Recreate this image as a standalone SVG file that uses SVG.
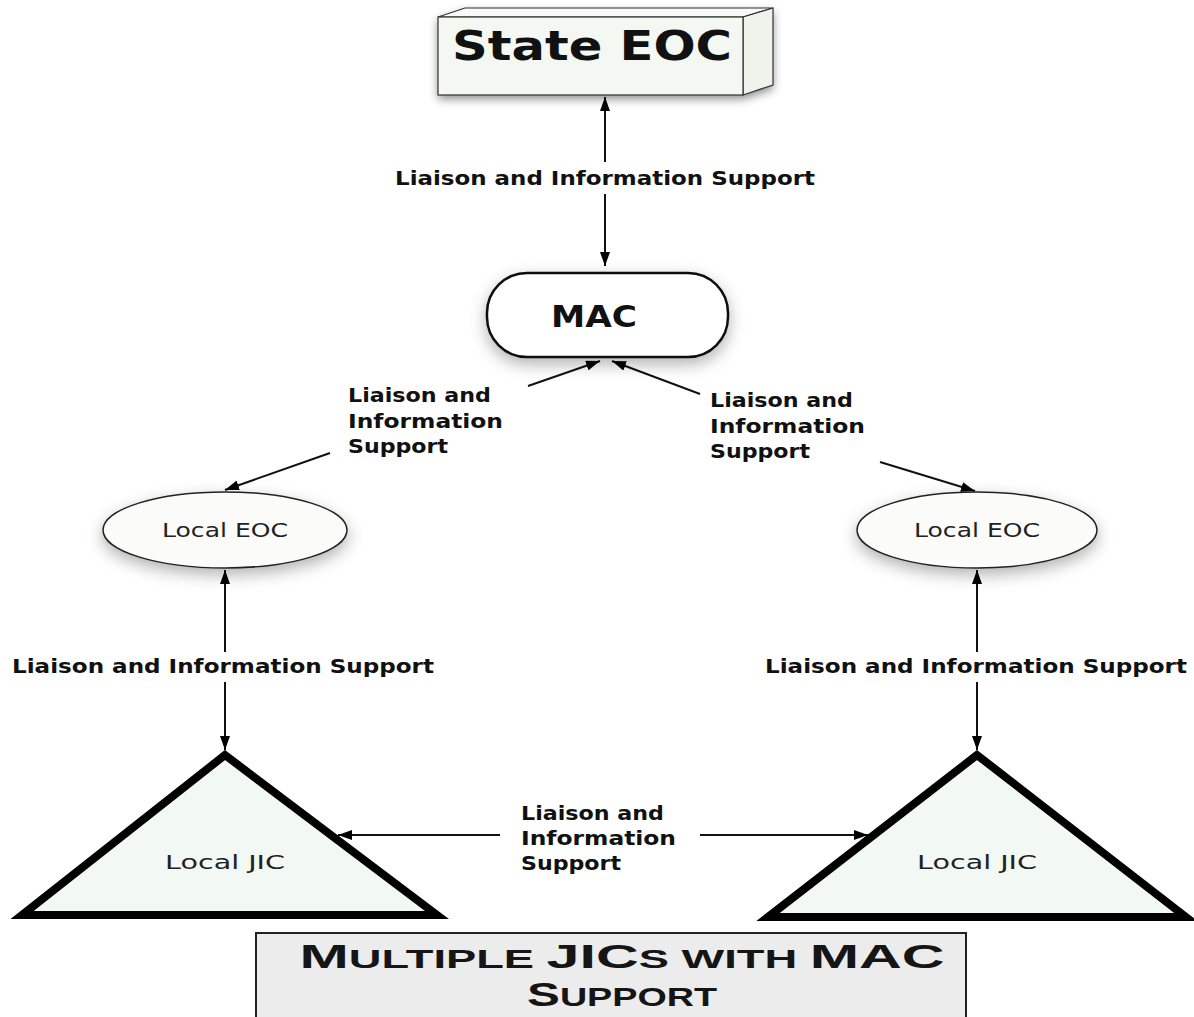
<svg xmlns="http://www.w3.org/2000/svg" width="1194" height="1017" viewBox="0 0 1194 1017">
<defs>
<marker id="ah" viewBox="0 0 14 10" markerWidth="14" markerHeight="10" refX="14" refY="5" orient="auto-start-reverse" markerUnits="userSpaceOnUse">
<path d="M0,0 L14,5 L0,10 z" fill="#000"/>
</marker>
<filter id="sh" x="-20%" y="-30%" width="140%" height="170%">
<feDropShadow dx="0" dy="4" stdDeviation="5" flood-color="#000" flood-opacity="0.45"/>
</filter>
<filter id="sh2" x="-20%" y="-30%" width="140%" height="170%">
<feDropShadow dx="0" dy="6" stdDeviation="8" flood-color="#000" flood-opacity="0.3"/>
</filter>
</defs>
<style>
.lbl{font-family:"DejaVu Sans",sans-serif;font-weight:bold;font-size:19px;fill:#111}
.nodet{font-family:"DejaVu Sans",sans-serif;font-size:19px;fill:#222}
.con{stroke:#111;stroke-width:2;fill:none}
.tri{fill:#f2f8f4;stroke:#000;stroke-width:8;stroke-linejoin:miter}
.ell{fill:#fbfcf9;stroke:#222;stroke-width:1.5}
.cap{font-family:"DejaVu Sans",sans-serif;font-weight:bold;fill:#111}
.ttl{font-family:"Liberation Sans",sans-serif;font-weight:bold;fill:#151515}
</style>
<rect width="1194" height="1017" fill="#fff"/>

<g id="state-eoc">
<g filter="url(#sh)">
<path d="M438,17 L465,8 L773,8 L773,85 L743,95 L438,95 Z" fill="#f4f8f2"/>
</g>
<path d="M438,17 L465,8 L773,8 L743,17 Z" fill="#f7faf5" stroke="#333" stroke-width="1.2"/>
<path d="M743,17 L773,8 L773,85 L743,95 Z" fill="#eef3ec" stroke="#333" stroke-width="1.2"/>
<rect x="438" y="17" width="305" height="78" fill="#f4f8f2" stroke="#333" stroke-width="1.2"/>
<text x="592" y="60" text-anchor="middle" font-family="DejaVu Sans,sans-serif" font-weight="bold" font-size="40" fill="#111" textLength="280" lengthAdjust="spacingAndGlyphs">State EOC</text>
</g>

<g id="mac">
<rect x="487" y="273" width="241" height="84" rx="40" ry="40" fill="#fff" stroke="#111" stroke-width="2.5" filter="url(#sh2)"/>
<text x="594" y="327" text-anchor="middle" class="cap" font-size="31" textLength="86" lengthAdjust="spacingAndGlyphs">MAC</text>
</g>

<g id="local-eoc-left">
<ellipse cx="225" cy="530" rx="122" ry="38" class="ell" filter="url(#sh2)"/>
<text x="225" y="537" text-anchor="middle" class="nodet" textLength="126" lengthAdjust="spacingAndGlyphs">Local EOC</text>
</g>

<g id="local-eoc-right">
<ellipse cx="977" cy="530" rx="120" ry="38" class="ell" filter="url(#sh2)"/>
<text x="977" y="537" text-anchor="middle" class="nodet" textLength="126" lengthAdjust="spacingAndGlyphs">Local EOC</text>
</g>

<g id="local-jic-left">
<polygon points="225,755 22,915 437,915" class="tri"/>
<text x="225" y="869" text-anchor="middle" class="nodet" textLength="120" lengthAdjust="spacingAndGlyphs">Local JIC</text>
</g>

<g id="local-jic-right">
<polygon points="977,755 768,917 1186,917" class="tri"/>
<text x="977" y="869" text-anchor="middle" class="nodet" textLength="120" lengthAdjust="spacingAndGlyphs">Local JIC</text>
</g>

<g id="connectors">
<line x1="605" y1="162" x2="605" y2="97" class="con" marker-end="url(#ah)"/>
<line x1="605" y1="194" x2="605" y2="266" class="con" marker-end="url(#ah)"/>
<line x1="528" y1="386" x2="600" y2="361" class="con" marker-end="url(#ah)"/>
<line x1="330" y1="453" x2="225" y2="490" class="con" marker-end="url(#ah)"/>
<line x1="700" y1="394" x2="612" y2="361" class="con" marker-end="url(#ah)"/>
<line x1="880" y1="462" x2="975" y2="491" class="con" marker-end="url(#ah)"/>
<line x1="225" y1="652" x2="225" y2="570" class="con" marker-end="url(#ah)"/>
<line x1="225" y1="682" x2="225" y2="750" class="con" marker-end="url(#ah)"/>
<line x1="977" y1="652" x2="977" y2="570" class="con" marker-end="url(#ah)"/>
<line x1="977" y1="682" x2="977" y2="750" class="con" marker-end="url(#ah)"/>
<line x1="500" y1="835" x2="338" y2="835" class="con" marker-end="url(#ah)"/>
<line x1="700" y1="835" x2="868" y2="835" class="con" marker-end="url(#ah)"/>
</g>

<g id="labels">
<text x="605" y="185" text-anchor="middle" class="lbl" textLength="420" lengthAdjust="spacingAndGlyphs">Liaison and Information Support</text>
<text x="348" y="402" class="lbl" textLength="143" lengthAdjust="spacingAndGlyphs">Liaison and</text>
<text x="348" y="428" class="lbl" textLength="155" lengthAdjust="spacingAndGlyphs">Information</text>
<text x="348" y="453" class="lbl" textLength="100" lengthAdjust="spacingAndGlyphs">Support</text>
<text x="710" y="407" class="lbl" textLength="143" lengthAdjust="spacingAndGlyphs">Liaison and</text>
<text x="710" y="433" class="lbl" textLength="155" lengthAdjust="spacingAndGlyphs">Information</text>
<text x="710" y="458" class="lbl" textLength="100" lengthAdjust="spacingAndGlyphs">Support</text>
<text x="223" y="673" text-anchor="middle" class="lbl" textLength="422" lengthAdjust="spacingAndGlyphs">Liaison and Information Support</text>
<text x="976" y="673" text-anchor="middle" class="lbl" textLength="422" lengthAdjust="spacingAndGlyphs">Liaison and Information Support</text>
<text x="521" y="820" class="lbl" textLength="143" lengthAdjust="spacingAndGlyphs">Liaison and</text>
<text x="521" y="845" class="lbl" textLength="155" lengthAdjust="spacingAndGlyphs">Information</text>
<text x="521" y="870" class="lbl" textLength="100" lengthAdjust="spacingAndGlyphs">Support</text>
</g>

<g id="title">
<rect x="256" y="933" width="710" height="100" fill="#ececec" stroke="#222" stroke-width="2"/>
<text x="622" y="968" text-anchor="middle" class="ttl" textLength="645" lengthAdjust="spacingAndGlyphs"><tspan font-size="34">M</tspan><tspan font-size="26">ULTIPLE </tspan><tspan font-size="34">JIC</tspan><tspan font-size="26">S WITH </tspan><tspan font-size="34">MAC</tspan></text>
<text x="622" y="1006" text-anchor="middle" class="ttl" textLength="190" lengthAdjust="spacingAndGlyphs"><tspan font-size="34">S</tspan><tspan font-size="26">UPPORT</tspan></text>
</g>
</svg>
